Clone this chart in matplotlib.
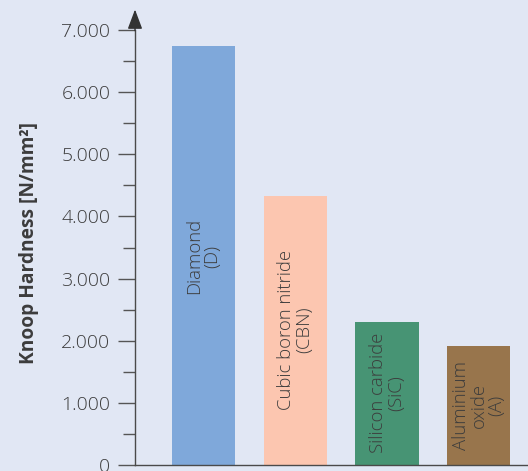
import matplotlib
matplotlib.use("Agg")
import matplotlib.pyplot as plt
from matplotlib.ticker import FixedLocator, FuncFormatter

categories = ["Diamond\n(D)", "Cubic boron nitride\n(CBN)", "Silicon carbide\n(SiC)", "Aluminium\noxide\n(A)"]
values = [6750, 4330, 2300, 1920]
label_y = [3360, 2170, 1160, 965]
colors = ["#7FA8DA", "#FCC6B0", "#479474", "#98754C"]
yticks = [0, 1000, 2000, 3000, 4000, 5000, 6000, 7000]
ylabel = "Knoop Hardness [N/mm²]"

bg = "#E1E7F4"
txt = "#3C3C3C"
plt.rcParams['font.family'] = ['Open Sans', 'DejaVu Sans']

fig = plt.figure(figsize=(5.28, 4.71), dpi=100, facecolor=bg)
ax = fig.add_axes([135/528, 6/471, (528-135)/528, (465-30)/471], facecolor=bg)

x = list(range(len(values)))
ax.bar(x, values, width=0.69, color=colors, zorder=2)
for xi, lab, ly in zip(x, categories, label_y):
    ax.text(xi, ly, lab, rotation=90, ha="center", va="center", multialignment="center",
            fontsize=13.3, fontweight="light", color=txt, zorder=3, linespacing=1.0)

ax.set_xlim(-0.747, 3.539)
ax.set_ylim(0, 7000)
ax.set_xticks([])
ax.yaxis.set_major_locator(FixedLocator(yticks))
ax.yaxis.set_minor_locator(FixedLocator([500, 1500, 2500, 3500, 4500, 5500, 6500]))
ax.yaxis.set_major_formatter(FuncFormatter(lambda v, p: "0" if v == 0 else f"{int(v):,}".replace(",", ".")))
ax.tick_params(axis="y", which="major", length=12.2, width=1.0, color="#555555", labelsize=14, labelcolor=txt, pad=5.5)
ax.tick_params(axis="y", which="minor", length=8.6, width=1.0, color="#555555")
for lbl in ax.get_yticklabels():
    lbl.set_fontweight("light")
for s in ["top", "right"]:
    ax.spines[s].set_visible(False)
for s in ["left", "bottom"]:
    ax.spines[s].set_color("#4A4A4A")
    ax.spines[s].set_linewidth(1.0)
ax.set_ylabel(ylabel, fontsize=13.8, fontweight="bold", color=txt)
ax.yaxis.set_label_coords(-0.245, 0.51)

ax.annotate("", xy=(-0.747, 7330), xytext=(-0.747, 6990), xycoords="data",
            arrowprops=dict(arrowstyle="-|>,head_length=1.2,head_width=0.45", color="#333333", lw=1.0,
                            shrinkA=0, shrinkB=0),
            annotation_clip=False)

fig.savefig("out.png", dpi=100, facecolor=bg)
